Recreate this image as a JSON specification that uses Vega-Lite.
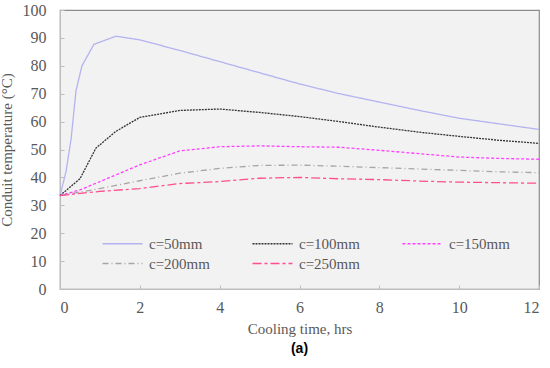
{
  "$schema": "https://vega.github.io/schema/vega-lite/v6.json",
  "width": 479,
  "height": 279,
  "autosize": {"type": "none"},
  "padding": {"left": 60, "top": 10, "right": 11, "bottom": 79},
  "background": "white",
  "title": {"text": "(a)", "orient": "bottom", "offset": 6, "font": "Liberation Sans", "fontSize": 14, "fontWeight": "bold", "color": "#000000"},
  "config": {
    "view": {"fill": "#f2f2f2", "stroke": "#8c8c8c", "strokeWidth": 1.2},
    "font": "Liberation Serif",
    "axis": {"grid": false, "domainColor": "#bdbdbd", "tickColor": "#bdbdbd", "labelColor": "#595959", "titleColor": "#595959", "labelFont": "Liberation Serif", "titleFont": "Liberation Serif", "labelFontSize": 16, "titleFontSize": 15, "titleFontWeight": "normal"}
  },
  "data": {"values": [
    {"t":0,"s":"c=50mm","v":33.5},{"t":0.15,"s":"c=50mm","v":42},{"t":0.28,"s":"c=50mm","v":54},{"t":0.4,"s":"c=50mm","v":71},{"t":0.55,"s":"c=50mm","v":80},{"t":0.85,"s":"c=50mm","v":87.7},{"t":1.4,"s":"c=50mm","v":90.6},{"t":2,"s":"c=50mm","v":89.3},{"t":3,"s":"c=50mm","v":85.5},{"t":4,"s":"c=50mm","v":81.5},{"t":5,"s":"c=50mm","v":77.5},{"t":6,"s":"c=50mm","v":73.5},{"t":7,"s":"c=50mm","v":70},{"t":8,"s":"c=50mm","v":67},{"t":9,"s":"c=50mm","v":64},{"t":10,"s":"c=50mm","v":61.2},{"t":11,"s":"c=50mm","v":59.2},{"t":12,"s":"c=50mm","v":57.2},
    {"t":0,"s":"c=100mm","v":33.5},{"t":0.5,"s":"c=100mm","v":39.5},{"t":0.9,"s":"c=100mm","v":50.5},{"t":1.4,"s":"c=100mm","v":56.5},{"t":2,"s":"c=100mm","v":61.5},{"t":3,"s":"c=100mm","v":64},{"t":4,"s":"c=100mm","v":64.5},{"t":5,"s":"c=100mm","v":63.3},{"t":6,"s":"c=100mm","v":61.8},{"t":7,"s":"c=100mm","v":60},{"t":8,"s":"c=100mm","v":58},{"t":9,"s":"c=100mm","v":56.2},{"t":10,"s":"c=100mm","v":54.7},{"t":11,"s":"c=100mm","v":53.3},{"t":12,"s":"c=100mm","v":52.2},
    {"t":0,"s":"c=150mm","v":33.5},{"t":0.5,"s":"c=150mm","v":35.5},{"t":1,"s":"c=150mm","v":38.5},{"t":2,"s":"c=150mm","v":44.5},{"t":3,"s":"c=150mm","v":49.5},{"t":4,"s":"c=150mm","v":51},{"t":5,"s":"c=150mm","v":51.3},{"t":6,"s":"c=150mm","v":51},{"t":7,"s":"c=150mm","v":50.8},{"t":8,"s":"c=150mm","v":49.7},{"t":9,"s":"c=150mm","v":48.5},{"t":10,"s":"c=150mm","v":47.3},{"t":11,"s":"c=150mm","v":46.8},{"t":12,"s":"c=150mm","v":46.5},
    {"t":0,"s":"c=200mm","v":33.5},{"t":1,"s":"c=200mm","v":36},{"t":2,"s":"c=200mm","v":38.8},{"t":3,"s":"c=200mm","v":41.5},{"t":4,"s":"c=200mm","v":43.2},{"t":5,"s":"c=200mm","v":44.3},{"t":6,"s":"c=200mm","v":44.4},{"t":7,"s":"c=200mm","v":44},{"t":8,"s":"c=200mm","v":43.5},{"t":9,"s":"c=200mm","v":43},{"t":10,"s":"c=200mm","v":42.5},{"t":11,"s":"c=200mm","v":42},{"t":12,"s":"c=200mm","v":41.7},
    {"t":0,"s":"c=250mm","v":33.5},{"t":1,"s":"c=250mm","v":35},{"t":2,"s":"c=250mm","v":36},{"t":3,"s":"c=250mm","v":37.8},{"t":4,"s":"c=250mm","v":38.5},{"t":5,"s":"c=250mm","v":39.7},{"t":6,"s":"c=250mm","v":40},{"t":7,"s":"c=250mm","v":39.5},{"t":8,"s":"c=250mm","v":39.2},{"t":9,"s":"c=250mm","v":38.7},{"t":10,"s":"c=250mm","v":38.3},{"t":11,"s":"c=250mm","v":38.1},{"t":12,"s":"c=250mm","v":37.9}
  ]},
  "mark": {"type": "line", "strokeWidth": 1.3},
  "encoding": {
    "x": {"field": "t", "type": "quantitative", "scale": {"domain": [0, 12], "nice": false}, "axis": {"title": "Cooling time, hrs", "values": [0,2,4,6,8,10,12], "tickSize": -4, "labelPadding": 14, "titlePadding": 6}},
    "y": {"field": "v", "type": "quantitative", "scale": {"domain": [0, 100], "nice": false}, "axis": {"title": "Conduit temperature (°C)", "values": [0,10,20,30,40,50,60,70,80,90,100], "tickSize": -4, "labelPadding": 18, "titlePadding": 8}},
    "color": {"field": "s", "type": "nominal", "scale": {"domain": ["c=50mm","c=100mm","c=150mm","c=200mm","c=250mm"], "range": ["#b3b3f0","#333333","#ff40ff","#a6a6a6","#ff4d8f"]},
      "legend": {"title": null, "orient": "none", "legendX": 55, "legendY": 226, "direction": "horizontal", "columns": 3, "gridAlign": "all", "columnPadding": 39, "rowPadding": 4, "symbolType": "M-4,0H4", "symbolSize": 100, "symbolStrokeWidth": 1.3, "labelFont": "Liberation Serif", "labelFontSize": 15, "labelColor": "#595959", "labelOffset": 19, "padding": 0}},
    "strokeDash": {"field": "s", "type": "nominal", "scale": {"domain": ["c=50mm","c=100mm","c=150mm","c=200mm","c=250mm"], "range": [[1,0],[2,1],[3,2],[6,3,1,3],[9,3,3,3]]}},
    "order": {"field": "t", "type": "quantitative"}
  }
}
